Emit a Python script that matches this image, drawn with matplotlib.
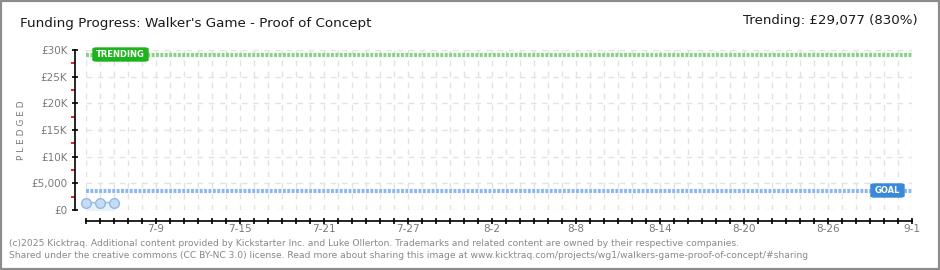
"""
Kicktraq-style funding progress chart for Walker's Game.
"""

import matplotlib
matplotlib.use("Agg")
import matplotlib.pyplot as plt
from matplotlib.patches import Rectangle, FancyBboxPatch
import pandas as pd

# data
pledge_dates = ["2025-07-04", "2025-07-05", "2025-07-06"]
pledged = [1350, 1370, 1390]
goal = 3500
trending = 29077
x_start, x_end = "2025-07-04", "2025-09-01"
label_dates = ["2025-07-09", "2025-07-15", "2025-07-21", "2025-07-27", "2025-08-02",
               "2025-08-08", "2025-08-14", "2025-08-20", "2025-08-26", "2025-09-01"]
y_ticks = [0, 5000, 10000, 15000, 20000, 25000, 30000]
y_labels = ["£0", "£5,000", "£10K", "£15K", "£20K", "£25K", "£30K"]

W, H = 940, 270
fig = plt.figure(figsize=(W / 100, H / 100), dpi=100)
plt.rcParams["font.family"] = ["DejaVu Sans"]

def px(x, y):
    return x / W, 1 - y / H

# plot box: x 86..912, y 50..210
ax = fig.add_axes([86 / W, (H - 210) / H, (912 - 86) / W, 160 / H])
ax.set_facecolor("none")

d = pd.to_datetime(pledge_dates)
x0, x1 = pd.Timestamp(x_start), pd.Timestamp(x_end)
ax.set_xlim(x0, x1)
ax.set_ylim(0, 30000)

# grid
days = pd.date_range(x0, x1, freq="D")
ax.set_xticks(days)
ax.set_xticklabels(["" for _ in days])
ax.set_yticks(y_ticks)
ax.set_yticklabels(y_labels)
ax.set_yticks([2500 + 5000 * i for i in range(6)], minor=True)
ax.grid(True, which="major", color="#e2e2e2", linestyle=(0, (4, 4)), linewidth=1)

for s in ["top", "right"]:
    ax.spines[s].set_visible(False)
# spines sit ~11 px away from the plot box (outward is in points)
ax.spines["left"].set_position(("outward", 7.9))
ax.spines["bottom"].set_position(("outward", 7.7))
ax.spines["left"].set_linewidth(1.2)
ax.spines["bottom"].set_linewidth(1.2)
ax.tick_params(axis="x", direction="inout", length=5, width=1.2, color="black", pad=2)
ax.tick_params(axis="y", which="major", direction="inout", length=5, width=1.2,
               color="black", labelsize=7.5, labelcolor="#7a7a7a", pad=3)
ax.tick_params(axis="y", which="minor", direction="out", length=3, width=1.2, color="#e00000")

# date labels every 6 days, centred ~19 px below the plot floor
shift = matplotlib.transforms.ScaledTranslation(0, -0.19, fig.dpi_scale_trans)
for ld in label_dates:
    t = pd.Timestamp(ld)
    ax.text(t, 0, f"{t.month}-{t.day}", transform=ax.get_xaxis_transform() + shift,
            ha="center", va="center", fontsize=7.5, color="#7a7a7a", clip_on=False)

# trending and goal lines
ax.axhline(trending, color="#86d386", linewidth=3, linestyle=(0, (0.7, 0.35)), zorder=3)
ax.axhline(goal, color="#8db9ea", linewidth=3, linestyle=(0, (0.7, 0.35)), zorder=3)

# pledged series
ax.fill_between(d, pledged, 0, color="#e9f1fb", zorder=2)
ax.plot(d, pledged, color="#9cc2ee", linewidth=1.2, zorder=4)
ax.plot(d, pledged, "o", markersize=7, markerfacecolor="#c6dcf5",
        markeredgecolor="#93b8e6", markeredgewidth=1, zorder=5, clip_on=False)

# label boxes
def tag(x, y, w, h, text, color):
    bx = FancyBboxPatch(px(x, y + h), w / W, h / H, boxstyle="round,pad=0,rounding_size=0.004",
                        transform=fig.transFigure, facecolor=color, edgecolor=color, zorder=6)
    fig.patches.append(bx)
    fig.text((x + w / 2) / W, 1 - (y + h / 2) / H, text, color="white", fontsize=6,
             fontweight="bold", ha="center", va="center", zorder=7)

tag(93, 48, 55, 13, "TRENDING", "#1db31d")
tag(871, 184, 33, 13, "GOAL", "#3a89d9")

# titles
fig.text(20 / W, 1 - 23 / H, "Funding Progress: Walker's Game - Proof of Concept",
         fontsize=9.7, color="#1a1a1a", ha="left", va="center")
fig.text(918 / W, 1 - 21 / H, "Trending: £29,077 (830%)",
         fontsize=9.6, color="#1a1a1a", ha="right", va="center")
fig.text(22 / W, 1 - 130 / H, "P L E D G E D", rotation=90, fontsize=6.5,
         color="#7a7a7a", ha="center", va="center")

# footer
fig.text(9 / W, 1 - 243 / H,
         "(c)2025 Kicktraq. Additional content provided by Kickstarter Inc. and Luke Ollerton. "
         "Trademarks and related content are owned by their respective companies.",
         fontsize=6.6, color="#888888", ha="left", va="center")
fig.text(9 / W, 1 - 256 / H,
         "Shared under the creative commons (CC BY-NC 3.0) license. Read more about sharing this image "
         "at www.kicktraq.com/projects/wg1/walkers-game-proof-of-concept/#sharing",
         fontsize=6.6, color="#888888", ha="left", va="center")

# frame
fig.patches.append(Rectangle((0, 0), 1, 1, transform=fig.transFigure, fill=False,
                             edgecolor="#8c8c8c", linewidth=3))

fig.savefig("out.png", dpi=100)
